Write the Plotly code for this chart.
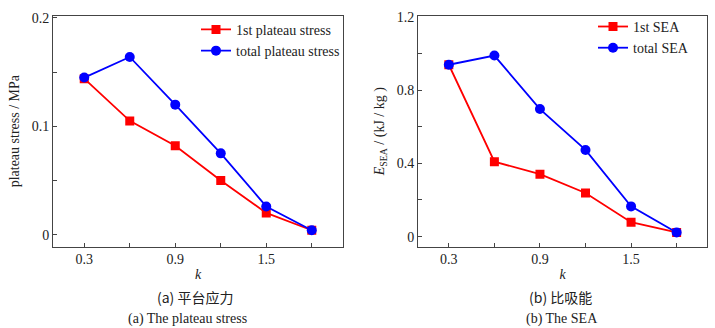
import plotly.graph_objects as go

k = [0.3, 0.6, 0.9, 1.2, 1.5, 1.8]
stress_1st = [0.144, 0.105, 0.082, 0.050, 0.020, 0.004]
stress_total = [0.145, 0.164, 0.120, 0.075, 0.026, 0.004]
sea_1st = [0.938, 0.409, 0.341, 0.238, 0.079, 0.023]
sea_total = [0.938, 0.988, 0.696, 0.473, 0.165, 0.023]

x_ticktext = ["0.3", " ", "0.9", " ", "1.5", " "]
y1_tickvals = [0, 0.05, 0.1, 0.15, 0.2]
y1_ticktext = ["0", " ", "0.1", " ", "0.2"]
y2_tickvals = [0, 0.2, 0.4, 0.6, 0.8, 1.0, 1.2]
y2_ticktext = ["0", " ", "0.4", " ", "0.8", " ", "1.2"]

RED = "#ff0000"
BLUE = "#0000ff"
FONT = "'Liberation Serif', 'Times New Roman', Times, serif"
CJK = "'Noto Sans CJK SC', sans-serif"
W, H = 715, 328

fig = go.Figure()

def add(x, y, name, color, symbol, xa, ya, legend):
    fig.add_trace(go.Scatter(
        x=x, y=y, name=name, mode="lines+markers",
        line=dict(color=color, width=1.8),
        marker=dict(symbol=symbol, size=9 if symbol == "square" else 10, color=color),
        xaxis=xa, yaxis=ya, legend=legend))

add(k, stress_1st, "1st plateau stress", RED, "square", "x", "y", "legend")
add(k, stress_total, "total plateau stress", BLUE, "circle", "x", "y", "legend")
add(k, sea_1st, "1st SEA", RED, "square", "x2", "y2", "legend2")
add(k, sea_total, "total SEA", BLUE, "circle", "x2", "y2", "legend2")

ydom = [1 - 245 / H, 1 - 10 / H]
axis_common = dict(showline=True, mirror=True, linecolor="#444", linewidth=1,
                   ticks="inside", ticklen=4, tickcolor="#444", showgrid=False,
                   zeroline=False, tickfont=dict(family=FONT, size=14, color="#222"))

fig.update_layout(
    width=W, height=H, margin=dict(l=0, r=0, t=0, b=0),
    paper_bgcolor="white", plot_bgcolor="white",
    font=dict(family=FONT, size=13, color="#222"),
    xaxis=dict(domain=[53 / W, 343 / W], range=[0.094, 2.006], tickvals=k, ticktext=x_ticktext,
               title=dict(text="<i>k</i>", font=dict(family=FONT, size=14), standoff=2), anchor="y", **axis_common),
    yaxis=dict(domain=ydom, range=[-0.011, 0.202], tickvals=y1_tickvals, ticktext=y1_ticktext,
               title=dict(text="plateau stress / MPa", font=dict(family=FONT, size=14), standoff=8), anchor="x", **axis_common),
    xaxis2=dict(domain=[418 / W, 707 / W], range=[0.097, 2.0], tickvals=k, ticktext=x_ticktext,
                title=dict(text="<i>k</i>", font=dict(family=FONT, size=14), standoff=2), anchor="y2", **axis_common),
    yaxis2=dict(domain=ydom, range=[-0.054, 1.205], tickvals=y2_tickvals, ticktext=y2_ticktext,
                title=dict(text="<i>E</i><sub>SEA</sub> / (kJ / kg )", font=dict(family=FONT, size=14), standoff=8),
                anchor="x2", **axis_common),
    legend=dict(x=196 / W, y=1 - 8 / H, xanchor="left", yanchor="top", bgcolor="rgba(0,0,0,0)",
                font=dict(family=FONT, size=14, color="#222"), itemwidth=30, tracegroupgap=0),
    legend2=dict(x=593 / W, y=1 - 5 / H, xanchor="left", yanchor="top", bgcolor="rgba(0,0,0,0)",
                 font=dict(family=FONT, size=14, color="#222"), itemwidth=30, tracegroupgap=0),
    showlegend=True,
)

captions = [
    ("(a) 平台应力", 195, 296, CJK, 14),
    ("(a) The plateau stress", 187, 319, FONT, 14),
    ("(b) 比吸能", 560, 296, CJK, 14),
    ("(b) The SEA", 562, 319, FONT, 14),
]
for text, cx, cy, fam, sz in captions:
    fig.add_annotation(text=text, x=cx / W, y=1 - cy / H, xref="paper", yref="paper",
                       xanchor="center", yanchor="middle", showarrow=False,
                       font=dict(family=fam, size=sz, color="#222"))

fig.write_html("out.html")
